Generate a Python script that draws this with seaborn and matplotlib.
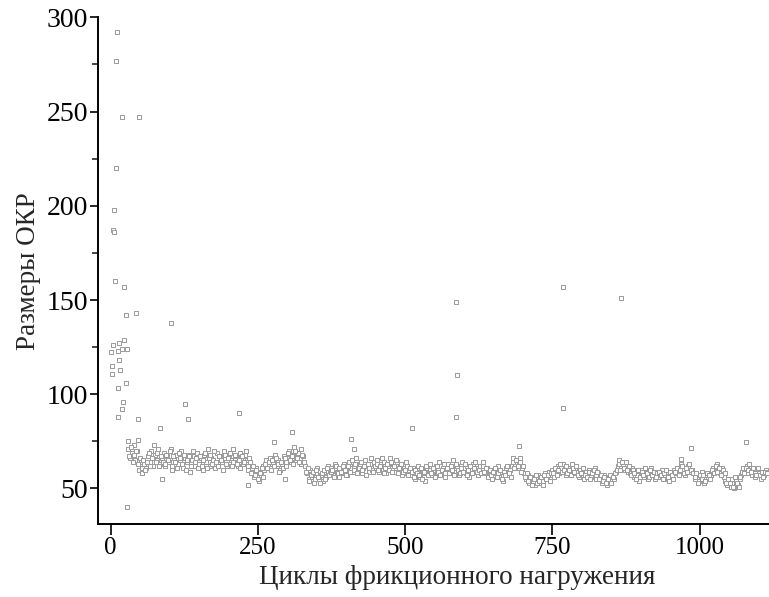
import numpy as np
import pandas as pd
import matplotlib
matplotlib.use("Agg")
import matplotlib.pyplot as plt
import seaborn as sns
from matplotlib.ticker import MultipleLocator

# ---- data ----
band_y = [
    71, 66, 69, 73, 65, 70, 60, 64, 58, 63, 61, 67, 64, 70, 62, 68, 65, 71, 63, 66,
    69, 62, 67, 64, 71, 60, 66, 68, 63, 65, 70, 61, 66, 64, 68, 59, 65, 67, 62, 69,
    63, 66, 60, 68, 64, 71, 62, 66, 65, 61, 69, 63, 67, 64, 70, 66, 62, 68, 65, 71,
    64, 67, 62, 69, 66, 63, 68, 65, 60, 64, 59, 56, 61, 57, 54, 59, 62, 60, 65, 62,
    66, 61, 64, 68, 62, 65, 60, 63, 67, 64, 66, 70, 64, 68, 72, 65, 69, 66, 63, 67,
    62, 58, 55, 60, 56, 53, 58, 61, 55, 57, 54, 59, 56, 62, 58, 61, 57, 63, 59, 56,
    61, 58, 63, 60, 57, 64, 61, 59, 62, 66, 60, 63, 58, 61, 65, 62, 59, 63, 60, 64,
    61, 65, 59, 63, 60, 64, 58, 62, 66, 61, 63, 59, 64, 60, 62, 57, 61, 64, 58, 60,
    57, 61, 55, 59, 62, 56, 60, 58, 54, 61, 59, 63, 57, 60, 62, 58, 64, 59, 61, 56,
    60, 63, 58, 61, 65, 59, 62, 57, 60, 64, 61, 58, 62, 56, 60, 63, 59, 61, 57, 62,
    60, 64, 58, 61, 57, 59, 55, 60, 58, 62, 56, 59, 54, 58, 61, 57, 60, 62, 66, 63,
    65, 61, 64, 60, 58, 55, 57, 53, 56, 54, 52, 55, 57, 53, 56, 54, 58, 55, 59, 57,
    60, 56, 59, 62, 58, 61, 63, 59, 57, 61, 60, 63, 58, 61, 59, 56, 60, 58, 55, 59,
    57, 60, 56, 58, 61, 55, 58, 56, 53, 57, 54, 52, 56, 54, 57, 55, 59, 62, 65, 61,
    63, 60, 64, 59, 58, 61, 56, 59, 57, 54, 58, 60, 56, 59, 55, 58, 61, 57, 55, 59,
    56, 58, 60, 55, 57, 59, 54, 58, 56, 60, 58, 61, 59, 63, 60, 57, 61, 62, 59, 60,
    58, 55, 57, 54, 56, 59, 53, 56, 55, 58, 57, 61, 59, 63, 60, 58, 61, 56, 54, 52,
    55, 51, 53, 50, 54, 52, 55, 57, 61, 59, 62, 58, 60, 57, 59, 56, 60, 58, 55, 59,
    57, 60, 58,
]
band2_y = [
    67, 72, 64, 68, 70, 63, 66, 61, 65, 60, 64, 69, 62, 66, 73, 64, 69, 62, 67, 64,
    63, 68, 65, 70, 62, 67, 64, 61, 69, 66, 63, 68, 60, 65, 67, 62, 70, 64, 66, 61,
    67, 62, 65, 69, 61, 66, 68, 63, 70, 64, 62, 67, 65, 60, 68, 63, 66, 69, 62, 64,
    68, 63, 65, 61, 67, 64, 70, 62, 66, 58, 62, 57, 60, 55, 58, 61, 56, 63, 61, 64,
    60, 65, 62, 66, 63, 59, 64, 61, 66, 62, 69, 65, 67, 63, 70, 66, 64, 71, 68, 64,
    59, 61, 54, 57, 59, 55, 60, 56, 53, 58, 60, 55, 61, 57, 59, 60, 56, 62, 58, 61,
    59, 62, 60, 57, 62, 59, 65, 60, 63, 58, 61, 64, 60, 62, 57, 63, 61, 66, 59, 62,
    63, 60, 62, 66, 58, 61, 63, 60, 64, 59, 62, 65, 58, 61, 63, 59, 60, 62, 57, 61,
    59, 56, 60, 58, 57, 61, 55, 59, 62, 57, 60, 58, 61, 56, 62, 59, 57, 60, 63, 58,
    61, 58, 62, 60, 57, 63, 60, 58, 61, 59, 63, 57, 60, 62, 58, 61, 64, 59, 60, 58,
    62, 59, 61, 56, 60, 57, 59, 61, 56, 58, 60, 55, 59, 57, 62, 58, 56, 64, 61, 65,
    62, 66, 59, 62, 56, 58, 54, 56, 52, 55, 57, 53, 54, 56, 52, 57, 55, 57, 54, 58,
    58, 61, 57, 60, 63, 59, 60, 62, 58, 60, 57, 61, 59, 62, 57, 60, 58, 61, 57, 56,
    59, 55, 58, 60, 57, 59, 55, 57, 54, 56, 53, 55, 57, 53, 56, 58, 60, 63, 60, 64,
    61, 64, 60, 62, 57, 60, 58, 55, 60, 56, 59, 57, 61, 58, 56, 60, 57, 59, 56, 58,
    59, 57, 55, 58, 60, 56, 59, 57, 55, 59, 61, 57, 60, 62, 58, 61, 59, 63, 60, 58,
    56, 58, 53, 57, 55, 57, 54, 58, 57, 55, 60, 58, 62, 59, 61, 57, 60, 58, 53, 55,
    53, 55, 51, 56, 53, 51, 56, 59, 58, 61, 60, 63, 59, 61, 58, 57, 61, 57, 59, 56,
    59, 58,
]
band_x = [30 + 3 * i for i in range(len(band_y))]        # cycles 30, 33, ...
band2_x = [31.5 + 3 * i for i in range(len(band2_y))]    # cycles 31.5, 34.5, ...

out_x = [11, 9.5, 19, 49, 8.5, 5.6, 4.4, 5, 7, 22, 25.5, 42.5, 103, 23, 3.4, 15,
         0, 12.4, 19.7, 27.7, 14.6, 2.2, 16.3, 1.7, 26.5, 12, 21, 18.7, 12, 46,
         126, 131, 84, 218, 27, 308, 29, 46, 88, 234, 296, 278, 409, 414, 511,
         587, 769, 693, 968, 986, 1079, 587, 589, 769, 867]
out_y = [292, 277, 247, 247, 220, 198, 187, 186, 160, 157, 142, 143, 138, 129, 126, 127,
         122.5, 123, 124, 124, 118, 115, 113, 111, 106, 103.5, 96, 92, 88, 87,
         95, 87, 82, 90, 40, 80, 75, 75.5, 55, 52, 55, 74.7, 76, 71, 82,
         88, 92.6, 72.6, 65.4, 71.4, 74.7, 149, 110, 157, 151]

x_label = "Циклы фрикционного нагружения"
y_label = "Размеры ОКР"
x_ticks = [0, 250, 500, 750, 1000]
y_ticks = [50, 100, 150, 200, 250, 300]

df = pd.DataFrame({"x": band_x + band2_x + out_x, "y": band_y + band2_y + out_y})

sns.set_style("white")
plt.rcParams["font.family"] = ["Liberation Serif", "DejaVu Serif"]

fig = plt.figure(figsize=(7.69, 5.97), dpi=100)
ax = fig.add_axes([0.1278, 0.1218, 0.8722, 0.8492])

sns.scatterplot(data=df, x="x", y="y", marker="s", s=9, facecolor="white",
                edgecolor="#9a9a9a", linewidth=0.7, ax=ax, zorder=3, clip_on=False)

ax.set_xlim(-21, 1118)
ax.set_ylim(31, 300)
ax.set_xticks(x_ticks)
ax.set_yticks(y_ticks)
ax.yaxis.set_minor_locator(MultipleLocator(25))

for s in ["top", "right"]:
    ax.spines[s].set_visible(False)
for s in ["left", "bottom"]:
    ax.spines[s].set_linewidth(1.4)
    ax.spines[s].set_color("black")

ax.tick_params(axis="y", which="major", direction="out", length=6, width=1.2,
               labelsize=20, pad=1.5, left=True, colors="black")
ax.tick_params(axis="y", which="minor", direction="out", length=4, width=1.2, left=True)
ax.tick_params(axis="x", which="major", direction="out", length=8, width=1.2,
               labelsize=18, pad=1, bottom=True, colors="black")

ax.set_xlabel(x_label, fontsize=19.5)
ax.set_ylabel(y_label, fontsize=19.5, labelpad=4)
ax.xaxis.set_label_coords(0.535, -0.080)

fig.savefig("out.png", dpi=100)
